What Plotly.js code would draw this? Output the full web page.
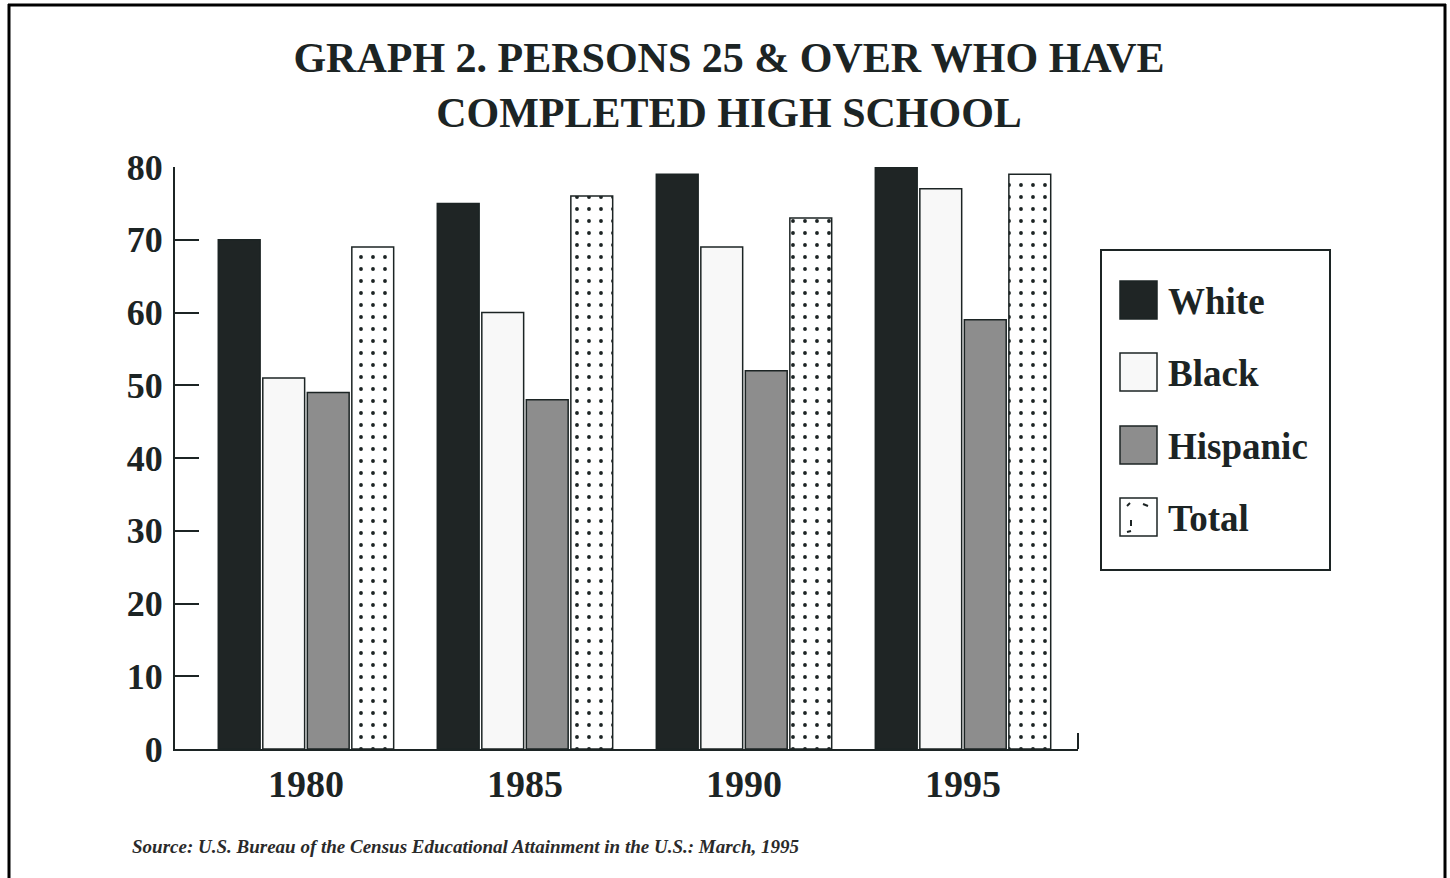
<!DOCTYPE html>
<html>
<head>
<meta charset="utf-8">
<script src="https://cdn.plot.ly/plotly-3.0.1.min.js"></script>
<style>
  html, body { margin: 0; padding: 0; background: #ffffff; }
  #chart { width: 1450px; height: 878px; }
</style>
</head>
<body>
<div id="chart"></div>
<script>
// Survey years on the category axis
const years = ['1980', '1985', '1990', '1995'];

// Percent of persons 25 and over who completed high school
const whiteVals    = [70, 75, 79, 80];
const blackVals    = [51, 60, 69, 77];
const hispanicVals = [49, 48, 52, 59];
const totalVals    = [69, 76, 73, 79];

const seriesNames = ['White', 'Black', 'Hispanic', 'Total'];
const yTicks = [0, 10, 20, 30, 40, 50, 60, 70, 80];

const sourceNote = 'Source: U.S. Bureau of the Census Educational Attainment in the U.S.: March, 1995';

const INK = '#1c2424';
const SERIF = 'Liberation Serif, DejaVu Serif, serif';

// page / plot geometry in pixels
const W = 1450, H = 878;
const M = { l: 175, r: 372, t: 167, b: 129 };
const PW = W - M.l - M.r, PH = H - M.t - M.b;
const px = x => (x - M.l) / PW;          // page x -> paper x
const py = y => (H - M.b - y) / PH;      // page y -> paper y

const outline = { color: INK, width: 1.5 };

const traces = [
  { name: seriesNames[0], x: years, y: whiteVals, type: 'bar',
    marker: { color: '#1f2525', line: outline } },
  { name: seriesNames[1], x: years, y: blackVals, type: 'bar',
    marker: { color: '#f8f8f8', line: outline } },
  { name: seriesNames[2], x: years, y: hispanicVals, type: 'bar',
    marker: { color: '#8d8d8d', line: outline } },
  { name: seriesNames[3], x: years, y: totalVals, type: 'bar',
    marker: { color: '#ffffff', line: outline,
      pattern: { shape: '.', fgcolor: INK, bgcolor: '#ffffff', size: 12, solidity: 0.08 } } }
];

// frame around the whole figure (open at the bottom)
const shapes = [
  { type: 'line', xref: 'paper', yref: 'paper', x0: px(9), x1: px(9), y0: py(4), y1: py(890),
    line: { color: '#000', width: 3 } },
  { type: 'line', xref: 'paper', yref: 'paper', x0: px(8), x1: px(1446), y0: py(5), y1: py(5),
    line: { color: '#000', width: 3 } },
  { type: 'line', xref: 'paper', yref: 'paper', x0: px(1445), x1: px(1445), y0: py(4), y1: py(890),
    line: { color: '#000', width: 3 } },
  // short end tick at the right end of the category axis
  { type: 'line', xref: 'paper', yref: 'paper', x0: 1, x1: 1, y0: 0, y1: py(733),
    line: { color: INK, width: 2 } },
  // legend box
  { type: 'rect', xref: 'paper', yref: 'paper', x0: px(1101), x1: px(1330), y0: py(250), y1: py(570),
    line: { color: INK, width: 2 }, fillcolor: '#ffffff' }
];

const annotations = [
  { text: sourceNote, xref: 'paper', yref: 'paper', x: px(130), y: py(846),
    xanchor: 'left', yanchor: 'middle', showarrow: false,
    font: { family: SERIF, size: 19, color: '#2a2a2a', style: 'italic', weight: 'bold' } }
];

// legend swatches and labels
const swatchFill = ['#1f2525', '#f8f8f8', '#8d8d8d', '#ffffff'];
const rowY = [300, 372, 445, 517];
seriesNames.forEach((name, i) => {
  const cy = rowY[i];
  shapes.push({ type: 'rect', xref: 'paper', yref: 'paper',
    x0: px(1120), x1: px(1157), y0: py(cy - 19), y1: py(cy + 19),
    line: { color: INK, width: 1.5 }, fillcolor: swatchFill[i] });
  annotations.push({ text: '<b>' + name + '</b>', xref: 'paper', yref: 'paper',
    x: px(1166), y: py(cy + 1), xanchor: 'left', yanchor: 'middle', showarrow: false,
    font: { family: SERIF, size: 37, color: INK } });
});
// a few strokes inside the Total swatch (offsets from its top-left corner)
const sx = 1120, sy = rowY[3] - 19;
[[7, 8, 10, 5], [23, 6, 28, 8], [11, 22, 11, 28], [7, 34, 11, 33]]
  .forEach(s => shapes.push({ type: 'line', xref: 'paper', yref: 'paper',
    x0: px(sx + s[0]), y0: py(sy + s[1]), x1: px(sx + s[2]), y1: py(sy + s[3]),
    line: { color: INK, width: 2 } }));

const layout = {
  width: W, height: H,
  margin: M,
  paper_bgcolor: '#ffffff', plot_bgcolor: '#ffffff',
  showlegend: false,
  barmode: 'group',
  bargap: 0.187,
  bargroupgap: 0.06,
  title: {
    text: '<b>GRAPH 2. PERSONS 25 &amp; OVER WHO HAVE<br>COMPLETED HIGH SCHOOL</b>',
    font: { family: SERIF, size: 42, color: INK },
    x: px(729), xanchor: 'center', xref: 'paper',
    y: 1 - 72 / H, yanchor: 'top', yref: 'container',
    automargin: false
  },
  xaxis: {
    type: 'category', range: [-0.598, 3.525],
    showline: true, linecolor: INK, linewidth: 2,
    showgrid: false, zeroline: false, ticks: '',
    tickfont: { family: SERIF, size: 38, color: INK, weight: 'bold' },
    ticklabelstandoff: 0
  },
  yaxis: {
    range: [0, 80], tickvals: yTicks,
    showline: true, linecolor: INK, linewidth: 2,
    showgrid: false, zeroline: false,
    ticks: 'inside', ticklen: 24, tickwidth: 2, tickcolor: INK,
    tickfont: { family: SERIF, size: 36, color: INK, weight: 'bold' },
    ticklabelstandoff: 3
  },
  shapes: shapes,
  annotations: annotations
};

Plotly.newPlot('chart', traces, layout, { displayModeBar: false, staticPlot: true });
</script>
</body>
</html>
